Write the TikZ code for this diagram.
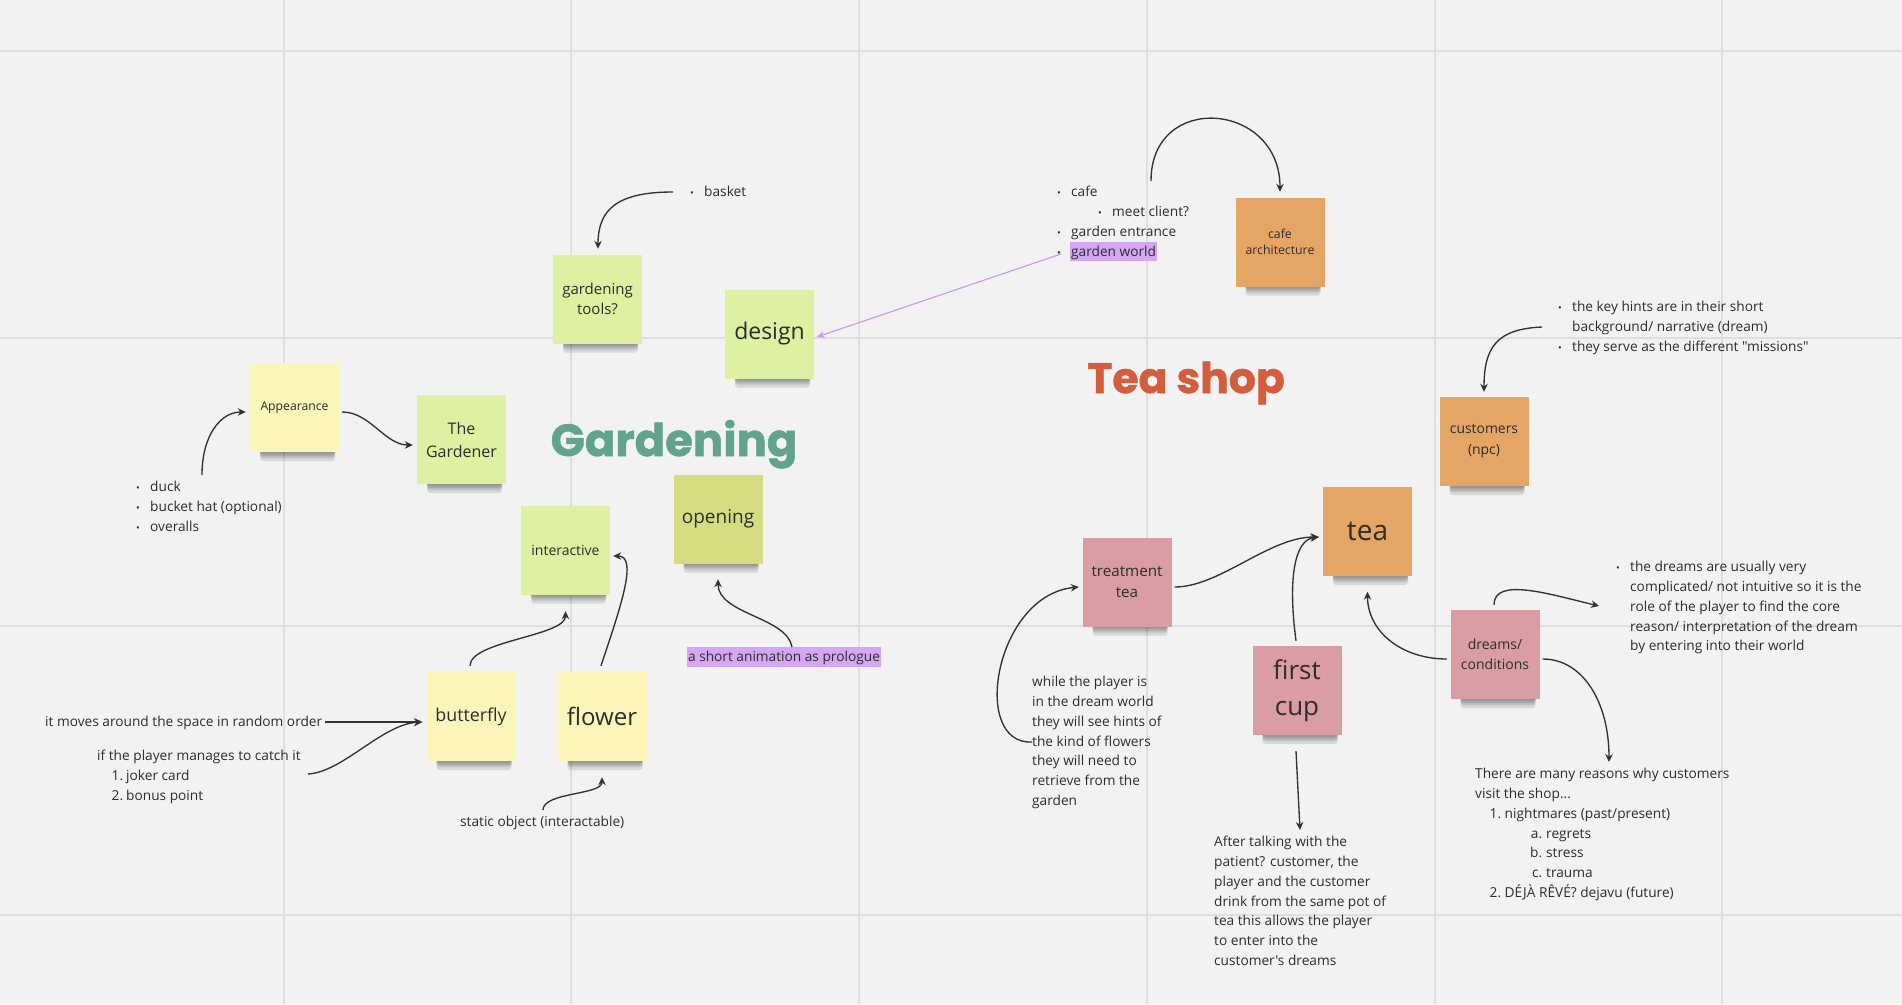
\documentclass[tikz,border=0pt]{standalone}
\usepackage{fontspec}
\setmainfont{Open Sans}[Ligatures=TeXOff]
\newfontfamily\titlefont{Poppins}[BoldFeatures={FakeBold=1.2}]
\usetikzlibrary{arrows.meta}
\definecolor{bg}{RGB}{242,242,242}
\definecolor{gridc}{RGB}{223,223,223}
\definecolor{yellowS}{RGB}{252,245,186}
\definecolor{greenS}{RGB}{222,240,162}
\definecolor{oliveS}{RGB}{213,221,128}
\definecolor{orangeS}{RGB}{229,166,101}
\definecolor{pinkS}{RGB}{217,157,163}
\definecolor{hl}{RGB}{213,166,243}
\definecolor{txt}{RGB}{45,45,45}
\definecolor{arrc}{RGB}{50,50,50}
\definecolor{parrc}{RGB}{200,150,240}
\definecolor{gtitle}{RGB}{98,163,140}
\definecolor{ttitle}{RGB}{210,94,62}
\newcommand\bl{\makebox[14pt][l]{\fontsize{10}{10}\selectfont •}}
\newcommand\stickyN[7]{%
  \foreach \k in {2,4,6,9} \fill[black,opacity=0.11,rounded corners=3pt] (#2-34.5,#3+40) rectangle (#2+40.5,#3+44.5+\k);
  \node[sticky, fill=#4, font=\fontsize{#5}{#6}\selectfont] (#1) at (#2,#3) {#7};
}
\begin{document}
\begin{tikzpicture}[x=1pt,y=-1pt,
  sticky/.style={minimum width=89pt, minimum height=89pt, inner sep=1pt, align=center, text=txt},
  txtnode/.style={anchor=north west, inner sep=0pt, align=left, text=txt, font=\fontsize{13.7}{19.8}\selectfont},
  arr/.style={draw=arrc, line width=1.35pt, -{Stealth[length=8pt,width=7.5pt]}},
  parr/.style={draw=parrc, line width=1.1pt, -{Stealth[length=8pt,width=6.5pt]}}]
\useasboundingbox (0,0) rectangle (1902,1004);
\fill[bg] (0,0) rectangle (1902,1004);
% grid
\foreach \gx in {284,571,859,1147,1435,1722} \draw[gridc, line width=1.6pt] (\gx,0) -- (\gx,1004);
\foreach \gy in {51,338,626,915} \draw[gridc, line width=1.6pt] (0,\gy) -- (1902,\gy);

% titles
\node[font=\titlefont\bfseries\fontsize{45}{45}\selectfont, text=gtitle, anchor=base, inner sep=0pt] (tgard) at (674,456) {Gardening};
\node[font=\titlefont\bfseries\fontsize{42.5}{42.5}\selectfont, text=ttitle, anchor=base, inner sep=0pt] (ttea) at (1186,393) {Tea shop};

% sticky notes
\stickyN{app}{294.5}{407.5}{yellowS}{12.2}{16}{Appearance}
\stickyN{gard}{461.5}{439.5}{greenS}{16}{23}{The\\Gardener}
\stickyN{tools}{597.5}{299}{greenS}{15}{20.5}{gardening\\tools?}
\stickyN{design}{769.5}{334}{greenS}{23}{28}{design}
\stickyN{opening}{718}{519}{oliveS}{19}{24}{opening}
\stickyN{inter}{565.5}{550}{greenS}{14}{18}{interactive}
\stickyN{bfly}{471}{716.5}{yellowS}{17.8}{22}{butterfly}
\stickyN{flower}{602}{716.5}{yellowS}{24}{28}{flower}
\stickyN{cafe}{1280}{242}{orangeS}{12.3}{16.5}{cafe\\architecture}
\stickyN{cust}{1484}{441.5}{orangeS}{13.9}{21}{customers\\(npc)}
\stickyN{tea}{1367.5}{531.5}{orangeS}{28}{32}{tea}
\stickyN{treat}{1127}{582}{pinkS}{15.2}{21}{treatment\\tea}
\stickyN{first}{1297}{690.5}{pinkS}{26}{36}{first\\cup}
\stickyN{dreams}{1495}{654.5}{pinkS}{14}{20}{dreams/\\conditions}

% text blocks
\node[txtnode] (lapp) at (136,477.6) {\strut\bl duck\\\bl bucket hat (optional)\\\bl overalls};
\node[txtnode] (lbasket) at (690,182.6) {\strut\bl basket};
\node[txtnode] (lcafe) at (1057,182.6) {\strut\bl cafe\\\hspace*{41pt}\bl meet client?\\\bl garden entrance\\\bl\hspace*{-1pt}{\setlength\fboxsep{0pt}\colorbox{hl}{\rule[-4.5pt]{0pt}{19pt}\hspace{1pt}garden world\hspace{1pt}}}};
\node[txtnode] (lcust) at (1558,297.6) {\strut\bl the key hints are in their short\\\hspace*{14pt}background/ narrative (dream)\\\bl they serve as the different "missions"};
\node[txtnode] (lmoves) at (45,712.6) {\strut it moves around the space in random order};
\node[txtnode] (lcatch) at (97,746.6) {\strut if the player manages to catch it\\\hspace*{14pt}\makebox[12pt][r]{1.}\hspace{3pt}joker card\\\hspace*{14pt}\makebox[12pt][r]{2.}\hspace{3pt}bonus point};
\node[txtnode] (lstatic) at (460,812.6) {\strut static object (interactable)};
\node[fill=hl, inner xsep=1.5pt, inner ysep=0pt, text height=14.5pt, text depth=5pt, text=txt, font=\fontsize{13.7}{19.8}\selectfont] (lprol) at (784,657) {a short animation as prologue};
\node[txtnode] (lnote) at (1032,672.6) {\strut while the player is\\in the dream world\\they will see hints of\\the kind of flowers\\they will need to\\retrieve from the\\garden};
\node[txtnode] (lafter) at (1214,832.6) {\strut After talking with the\\patient? customer, the\\player and the customer\\drink from the same pot of\\tea this allows the player\\to enter into the\\customer's dreams};
\node[txtnode] (ldn) at (1616,557.6) {\strut\bl the dreams are usually very\\\hspace*{14pt}complicated/ not intuitive so it is the\\\hspace*{14pt}role of the player to find the core\\\hspace*{14pt}reason/ interpretation of the dream\\\hspace*{14pt}by entering into their world};
\node[txtnode] (lreas) at (1475,764.6) {\strut There are many reasons why customers\\visit the shop...\\\hspace*{14pt}\makebox[12pt][r]{1.}\hspace{3.5pt}nightmares (past/present)\\\hspace*{55pt}\makebox[12pt][r]{a.}\hspace{4pt}regrets\\\hspace*{55pt}\makebox[12pt][r]{b.}\hspace{4pt}stress\\\hspace*{55pt}\makebox[12pt][r]{c.}\hspace{4pt}trauma\\\hspace*{14pt}\makebox[12pt][r]{2.}\hspace{3.5pt}DÉJÀ RÊVÉ? dejavu (future)};

% free ends of connectors
\coordinate (cList) at (202,475);
\coordinate (cBasket) at (673,192);
\coordinate (cGW) at (1061,254);
\coordinate (cCafe) at (1151,181);
\coordinate (cCust) at (1542,327);
\coordinate (cMoves) at (325,722);
\coordinate (cCatch) at (308,774);
\coordinate (cStatic) at (543,810);
\coordinate (cProl) at (792,647);
\coordinate (cNote) at (1032,742);
\coordinate (cDN) at (1599,606);
\coordinate (cReasons) at (1609,762);
\coordinate (cAfter) at (1300,830);

% connectors
\draw[arr] (cList) .. controls +(0,-40) and +(-25,0) .. ([shift={(-4,4.5)}]app.west);
\draw[arr] ([shift={(3,4.5)}]app.east) .. controls +(28,0) and +(-28,0) .. ([shift={(-4,5.5)}]gard.west);
\draw[arr] (cBasket) .. controls +(-55,0) and +(0,-40) .. ([shift={(0.5,-5.5)}]tools.north);
\draw[parr] (cGW) -- ([shift={(2.5,3)}]design.east);
\draw[arr] (cCafe) .. controls +(0,-90) and +(0,-90) .. ([shift={(0,-5.5)}]cafe.north);
\draw[arr] (cCust) .. controls +(-45,2) and +(0,-45) .. ([shift={(0,-5)}]cust.north);
\draw[arr] ([shift={(-1,-6)}]bfly.north) .. controls +(0,-25) and +(0,25) .. ([shift={(0,16.5)}]inter.south);
\draw[arr] ([shift={(-1,-6)}]flower.north) .. controls +(20,-60) and +(25,0) .. ([shift={(3,6)}]inter.east);
\draw[arr] (cProl) .. controls +(-5,-30) and +(0,35) .. ([shift={(0,15.5)}]opening.south);
\draw[arr] (cMoves) -- ([shift={(-4,5.5)}]bfly.west);
\draw[arr] (cCatch) .. controls +(35,-2) and +(-40,2) .. ([shift={(-4,5.5)}]bfly.west);
\draw[arr] (cStatic) .. controls +(0,-18) and +(0,18) .. ([shift={(0,16)}]flower.south);
\draw[arr] ([shift={(3,5)}]treat.east) .. controls +(45,0) and +(-50,0) .. ([shift={(-4,5.5)}]tea.west);
\draw[arr] ([shift={(-1,-5)}]first.north) .. controls +(-8,-60) and +(-25,3) .. ([shift={(-4,5.5)}]tea.west);
\draw[arr] (cNote) .. controls +(-62,3) and +(-84,8) .. ([shift={(-3.5,5)}]treat.west);
\draw[arr] ([shift={(-3.5,4.5)}]dreams.west) .. controls +(-45,0) and +(0,40) .. ([shift={(0,15.5)}]tea.south);
\draw[arr] ([shift={(-1,-5)}]dreams.north) .. controls +(0,-28) and +(-50,-12) .. (cDN);
\draw[arr] ([shift={(3,4.5)}]dreams.east) .. controls +(40,0) and +(0,-60) .. (cReasons);
\draw[arr] ([shift={(-1,16)}]first.south) -- (cAfter);
\end{tikzpicture}
\end{document}
